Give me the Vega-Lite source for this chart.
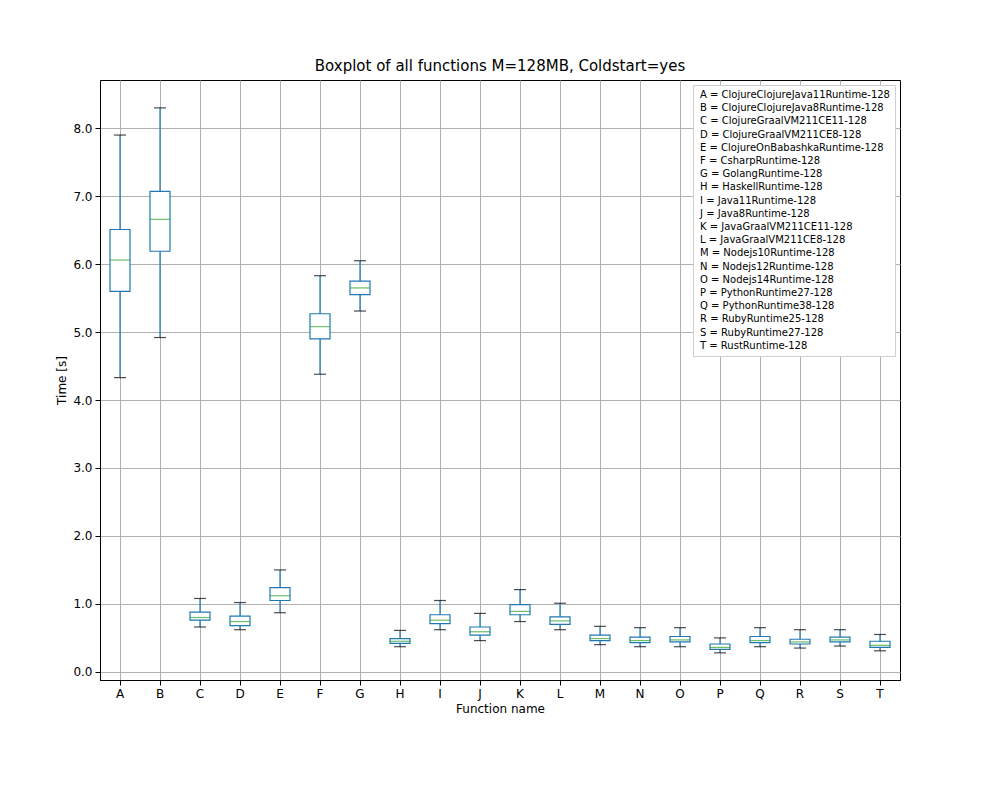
{
  "$schema": "https://vega.github.io/schema/vega-lite/v6.json",
  "width": 800,
  "height": 600,
  "autosize": "none",
  "padding": {"left": 100, "top": 80, "right": 100, "bottom": 120},
  "background": "white",
  "title": {"text": "Boxplot of all functions M=128MB, Coldstart=yes", "fontSize": 15, "fontWeight": "normal", "font": "DejaVu Sans", "offset": 6},
  "data": {
    "values": [
      {"f": "A", "name": "A = ClojureClojureJava11Runtime-128", "lo": 4.33, "q1": 5.6, "med": 6.06, "q3": 6.51, "hi": 7.9},
      {"f": "B", "name": "B = ClojureClojureJava8Runtime-128", "lo": 4.92, "q1": 6.19, "med": 6.66, "q3": 7.07, "hi": 8.3},
      {"f": "C", "name": "C = ClojureGraalVM211CE11-128", "lo": 0.66, "q1": 0.76, "med": 0.8, "q3": 0.88, "hi": 1.08},
      {"f": "D", "name": "D = ClojureGraalVM211CE8-128", "lo": 0.62, "q1": 0.68, "med": 0.74, "q3": 0.82, "hi": 1.02},
      {"f": "E", "name": "E = ClojureOnBabashkaRuntime-128", "lo": 0.87, "q1": 1.05, "med": 1.12, "q3": 1.24, "hi": 1.5},
      {"f": "F", "name": "F = CsharpRuntime-128", "lo": 4.38, "q1": 4.9, "med": 5.08, "q3": 5.27, "hi": 5.83},
      {"f": "G", "name": "G = GolangRuntime-128", "lo": 5.31, "q1": 5.55, "med": 5.65, "q3": 5.75, "hi": 6.05},
      {"f": "H", "name": "H = HaskellRuntime-128", "lo": 0.37, "q1": 0.42, "med": 0.45, "q3": 0.49, "hi": 0.61},
      {"f": "I", "name": "I = Java11Runtime-128", "lo": 0.62, "q1": 0.71, "med": 0.76, "q3": 0.84, "hi": 1.05},
      {"f": "J", "name": "J = Java8Runtime-128", "lo": 0.46, "q1": 0.54, "med": 0.59, "q3": 0.66, "hi": 0.86},
      {"f": "K", "name": "K = JavaGraalVM211CE11-128", "lo": 0.74, "q1": 0.84, "med": 0.89, "q3": 0.99, "hi": 1.21},
      {"f": "L", "name": "L = JavaGraalVM211CE8-128", "lo": 0.62, "q1": 0.7, "med": 0.75, "q3": 0.81, "hi": 1.01},
      {"f": "M", "name": "M = Nodejs10Runtime-128", "lo": 0.4, "q1": 0.46, "med": 0.49, "q3": 0.54, "hi": 0.67},
      {"f": "N", "name": "N = Nodejs12Runtime-128", "lo": 0.37, "q1": 0.43, "med": 0.46, "q3": 0.51, "hi": 0.65},
      {"f": "O", "name": "O = Nodejs14Runtime-128", "lo": 0.37, "q1": 0.44, "med": 0.47, "q3": 0.52, "hi": 0.65},
      {"f": "P", "name": "P = PythonRuntime27-128", "lo": 0.28, "q1": 0.33, "med": 0.36, "q3": 0.41, "hi": 0.5},
      {"f": "Q", "name": "Q = PythonRuntime38-128", "lo": 0.37, "q1": 0.43, "med": 0.46, "q3": 0.52, "hi": 0.65},
      {"f": "R", "name": "R = RubyRuntime25-128", "lo": 0.35, "q1": 0.41, "med": 0.44, "q3": 0.48, "hi": 0.62},
      {"f": "S", "name": "S = RubyRuntime27-128", "lo": 0.38, "q1": 0.44, "med": 0.47, "q3": 0.51, "hi": 0.62},
      {"f": "T", "name": "T = RustRuntime-128", "lo": 0.31, "q1": 0.36, "med": 0.39, "q3": 0.45, "hi": 0.55}
    ]
  },
  "encoding": {
    "x": {
      "field": "f", "type": "nominal", "title": "Function name",
      "scale": {"paddingInner": 0, "paddingOuter": 0},
      "axis": {"labelAngle": 0, "grid": true, "bandPosition": 0.5, "tickBand": "center"}
    }
  },
  "layer": [
    {
      "mark": {"type": "rule", "strokeWidth": 1.2},
      "encoding": {
        "y": {"field": "lo", "type": "quantitative", "title": "Time [s]",
              "scale": {"domain": [-0.12, 8.71], "nice": false, "zero": false},
              "axis": {"values": [0, 1, 2, 3, 4, 5, 6, 7, 8], "grid": true}},
        "y2": {"field": "hi"},
        "color": {"field": "name", "type": "nominal", "title": null,
                  "scale": {"range": ["#1f77b4"]},
                  "legend": {"orient": "top-right", "symbolOpacity": 0, "symbolSize": 0, "symbolStrokeWidth": 0,
                             "labelFontSize": 10, "labelOffset": -8, "fillColor": "white", "strokeColor": "#d0d0d0",
                             "padding": 5, "rowPadding": 3.2, "offset": 5, "labelLimit": 300}}
      }
    },
    {"mark": {"type": "tick", "color": "black", "size": 12, "thickness": 1.2}, "encoding": {"y": {"field": "lo", "type": "quantitative"}}},
    {"mark": {"type": "tick", "color": "black", "size": 12, "thickness": 1.2}, "encoding": {"y": {"field": "hi", "type": "quantitative"}}},
    {
      "mark": {"type": "bar", "fill": "white", "stroke": "#1f77b4", "strokeWidth": 1.2, "width": 20},
      "encoding": {"y": {"field": "q1", "type": "quantitative"}, "y2": {"field": "q3"}}
    },
    {"mark": {"type": "tick", "color": "#2ca02c", "size": 20, "thickness": 1.2}, "encoding": {"y": {"field": "med", "type": "quantitative"}}}
  ],
  "config": {
    "font": "DejaVu Sans",
    "view": {"stroke": "black", "strokeWidth": 1},
    "axis": {"gridColor": "#b0b0b0", "gridWidth": 1, "domainColor": "black", "tickColor": "black",
             "labelFontSize": 12, "titleFontSize": 12, "titleFontWeight": "normal", "labelColor": "black", "titleColor": "black", "labelPadding": 3},
    "legend": {"labelFont": "DejaVu Sans", "labelColor": "black"}
  }
}
